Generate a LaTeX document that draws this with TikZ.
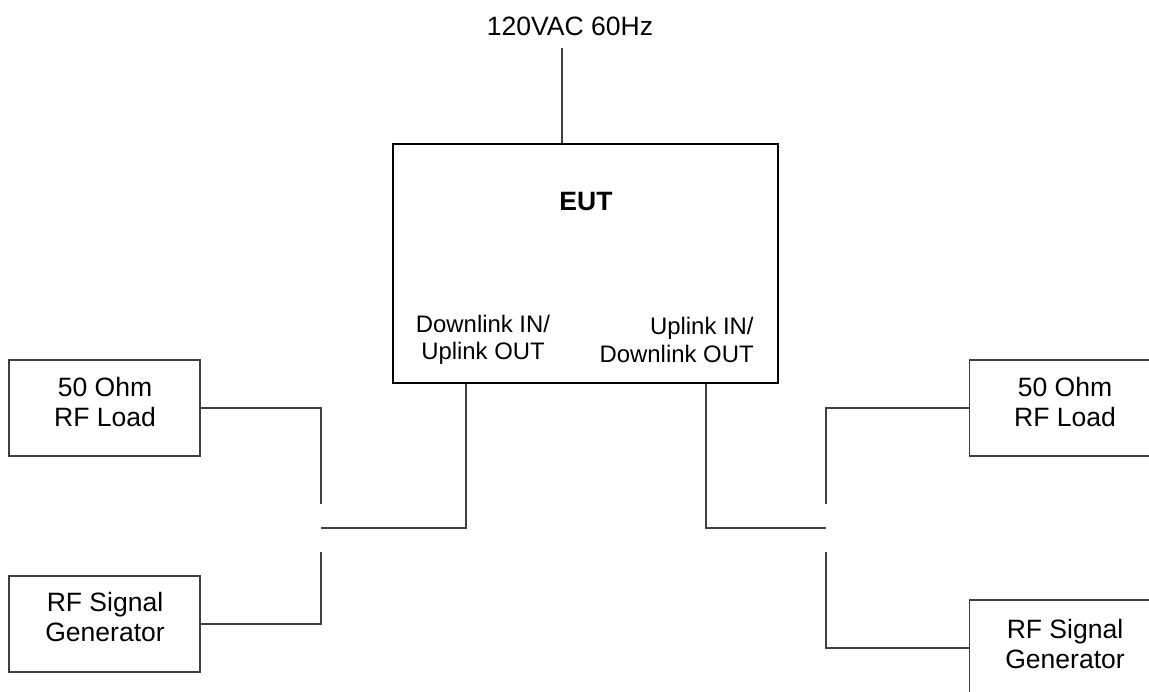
\documentclass[tikz,border=0pt]{standalone}
\usepackage{fontspec}
\setmainfont{Liberation Sans}
\usepackage{xcolor}
\usetikzlibrary{positioning,calc}
\definecolor{ink}{HTML}{000000}
\definecolor{wire}{HTML}{404040}
\begin{document}
\begin{tikzpicture}[x=0.02cm, y=-0.02cm, font=\fontsize{15.1}{17.6}\selectfont,
  unit/.style={draw=wire, line width=0.8pt, minimum width=3.82cm, minimum height=1.92cm, inner sep=0pt},
  unittxt/.style={align=center, inner sep=0pt},
  port/.style={font=\fontsize{13.6}{15.6}\selectfont, inner sep=0pt},
  wireline/.style={draw=wire, line width=0.8pt}]
\useasboundingbox (0,0) rectangle (1149,692);
\node[ink] (ac) at (570,26) {120VAC 60Hz};
\node[draw=ink, line width=1pt, minimum width=7.7cm, minimum height=4.78cm] (eut) at (585.5,263.5) {};
\node[font=\fontsize{15.1}{17.6}\selectfont\bfseries] (euttxt) at (586,202) {EUT};
\node[port, align=center] (dlport) at (483,340) {Downlink IN/\\Uplink OUT};
\node[port, align=right, anchor=east] (ulport) at (754,340) {Uplink IN/\\Downlink OUT};
\node[unit] (loadl) at (104.5,408) {};
\node[unit] (genl) at (104.5,624) {};
\node[unit, minimum width=5cm, anchor=west] (loadr) at (969,408) {};
\node[unit, minimum width=5cm, anchor=west] (genr) at (969,648) {};
\node[unittxt] (loadltxt) at (105,402) {50 Ohm\\RF Load};
\node[unittxt] (genltxt) at (105,617) {RF Signal\\Generator};
\node[unittxt] (loadrtxt) at (1065,402) {50 Ohm\\RF Load};
\node[unittxt] (genrtxt) at (1065,644) {RF Signal\\Generator};
\coordinate (acin) at (562,48);
\coordinate (dl) at (466,383.5);
\coordinate (ul) at (706,383.5);
\coordinate (swl) at (321,528);
\coordinate (swla) at (321,504);
\coordinate (swlb) at (321,552);
\coordinate (swr) at (826,528);
\coordinate (swra) at (826,504);
\coordinate (swrb) at (826,552);
\draw[wireline] (acin) -- (acin |- eut.north);
\draw[wireline] (dl) |- (swl);
\draw[wireline] (swla) |- (loadl.east);
\draw[wireline] (swlb) |- (genl.east);
\draw[wireline] (ul) |- (swr);
\draw[wireline] (swra) |- (loadr.west);
\draw[wireline] (swrb) |- (genr.west);
\end{tikzpicture}
\end{document}
